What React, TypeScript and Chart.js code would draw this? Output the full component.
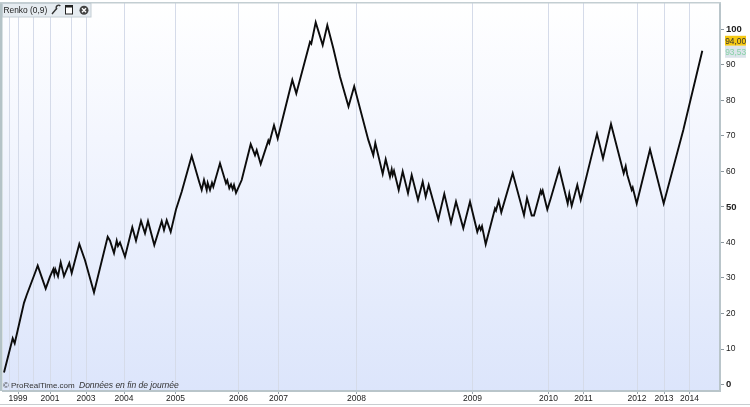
import React, { useEffect, useRef } from "react";
import { Chart, registerables } from "chart.js";

Chart.register(...registerables);

const brickIndex = [4,12.7,14.7,24,26.7,35,37.7,45.7,50,53.3,54.3,55.3,58,60.7,64,69.3,71.7,79.3,85,94,107.7,110,114,116.7,118,120,125,132.3,136,141,145,148,154.3,161.7,164,166.7,170.7,176,181.7,191.7,199.3,201.7,204,206.7,207.7,210,212,213.3,220,226,227.3,229.3,231,232.7,234,236,241.7,250.7,255,256.7,260.7,268.3,269.3,274,277.7,292.3,296.3,310,311.3,315.7,322.7,327.3,333.3,340,348.5,354.2,368.3,373.3,375.3,382.7,385.7,390,391.7,392.7,394,398.7,402.7,408,411.7,418,422.7,425.7,428.7,438.3,444.3,451,456,463.3,470,477.3,479.3,480.7,482,485.7,495,496,498.7,501.3,512.7,524,527,531.7,534,540.7,541.7,542.7,547.3,550.7,559.3,567.7,569.3,571.7,577.3,580.7,597,603,611,623.7,625.7,627.3,631.7,632.7,636.7,650,663.7,683.3,702.3];
const renkoValues = [3.4,13,11.6,23,25.2,31.4,33.5,27,30.4,32.5,31,32.5,30.5,34.4,30.5,34.2,31.4,39.6,35,25.9,41.6,40.5,37,40.5,39,40,36,44.3,40.5,46.1,42.6,46,39.3,46,43.5,46.3,43,49.3,54.3,64.4,57,54.8,57.6,54.8,56.8,54.8,56.8,55.7,62.3,56.7,57.5,55.3,56.4,55,56.2,54,57.6,67.7,64.6,66,62.1,68.7,68,73,69.3,85.8,82,96.5,96,102,95.6,101.2,94.7,86.7,78.3,84,68.9,64.6,68,59.3,63.4,58.5,60.6,59,60.2,54.8,60,53.9,59,52,57.1,52.9,56.2,46.5,53.7,45.6,51.5,44,51.5,43,44.6,43.6,44.6,39.5,49.6,49,51.8,48.5,59.5,47.7,52.5,47.6,47.6,54.6,53.8,54.6,49.3,52.4,60.7,51,53.7,50.3,56.2,52,70.6,63.7,73.4,59.5,61.5,59,54.8,55.5,51,66.2,51,71.7,94];

const gridPositions = [9,18,33,50,71,86,124,175.5,238.5,278.5,356.5,472.5,548.5,583.5,637,664,689.5];
const yearPositions = [18,50,86,124,175.5,238.5,278.5,356.5,472.5,548.5,583.5,637,664,689.5];
const yearLabels = ["1999","2001","2003","2004","2005","2006","2007","2008","2009","2010","2011","2012","2013","2014"];
const boldTicks = [0, 50, 100];
const lastClose = 94.0;
const lastCloseLabel = "94,00";
const movingLabel = "93,53";
const indicatorTitle = "Renko (0,9)";
const creditBrand = "ProRealTime.com";
const creditNote = "Données en fin de journée";

const frame = {
  id: "frame",
  beforeDraw(chart: any) {
    const { ctx, chartArea: a } = chart;
    const g = ctx.createLinearGradient(0, a.top, 0, a.bottom);
    g.addColorStop(0, "#ffffff");
    g.addColorStop(0.35, "#f3f6fe");
    g.addColorStop(1, "#dce5fb");
    ctx.save();
    ctx.fillStyle = g;
    ctx.fillRect(a.left, a.top, a.right - a.left, a.bottom - a.top);
    ctx.restore();
  },
  afterDraw(chart: any) {
    const { ctx, chartArea: a, scales } = chart;
    ctx.save();
    // outer frame
    ctx.fillStyle = "#b4c3c7";
    ctx.fillRect(0, 2, 2.5, a.bottom - 2);
    ctx.fillStyle = "#c3ced2";
    ctx.fillRect(0, 2, a.right + 1, 1.5);
    ctx.fillStyle = "#c8cdd0";
    ctx.fillRect(0, 404, 750, 1);

    // title box
    ctx.fillStyle = "#e6ecf1";
    ctx.fillRect(3, 4, 88, 13);
    ctx.strokeStyle = "#c4ced4";
    ctx.lineWidth = 1;
    ctx.strokeRect(2.5, 3.5, 88.5, 13.5);
    ctx.fillStyle = "#222";
    ctx.font = "8.4px 'Liberation Sans'";
    ctx.textAlign = "left";
    ctx.textBaseline = "middle";
    ctx.fillText(indicatorTitle, 3.5, 10.2);
    // wrench
    ctx.strokeStyle = "#333";
    ctx.lineWidth = 1.4;
    ctx.beginPath();
    ctx.moveTo(52, 14);
    ctx.lineTo(57, 8);
    ctx.arc(58.5, 7.5, 2.3, 2.6, 0.2 + 5.4);
    ctx.stroke();
    // window
    ctx.strokeStyle = "#222";
    ctx.lineWidth = 1;
    ctx.fillStyle = "#fff";
    ctx.fillRect(65.5, 5.5, 7, 8.5);
    ctx.strokeRect(65.5, 5.5, 7, 8.5);
    ctx.fillStyle = "#222";
    ctx.fillRect(65.5, 5.5, 7, 2);
    // close
    ctx.fillStyle = "#444";
    ctx.beginPath();
    ctx.arc(84, 10.3, 4.5, 0, Math.PI * 2);
    ctx.fill();
    ctx.strokeStyle = "#fff";
    ctx.lineWidth = 1.4;
    ctx.beginPath();
    ctx.moveTo(82, 8.3); ctx.lineTo(86, 12.3);
    ctx.moveTo(86, 8.3); ctx.lineTo(82, 12.3);
    ctx.stroke();

    // credit line
    ctx.textBaseline = "middle";
    ctx.fillStyle = "#333";
    ctx.font = "8px 'Liberation Sans'";
    ctx.fillText("©", 3, 386);
    ctx.fillText(creditBrand, 11, 386);
    ctx.font = "italic 8.5px 'Liberation Sans'";
    ctx.fillText(creditNote, 79, 386);

    // price badges
    const yScale = scales.y;
    const closeY = yScale.getPixelForValue(lastClose) - 10;
    ctx.font = "8.4px 'Liberation Sans'";
    ctx.textAlign = "left";
    ctx.fillStyle = "#f6c913";
    ctx.fillRect(725, closeY - 5, 21, 10);
    ctx.fillStyle = "#333";
    ctx.fillText(lastCloseLabel, 725.2, closeY + 0.5);
    ctx.fillStyle = "#dbe4ea";
    ctx.fillRect(725, closeY + 5, 21, 12);
    ctx.fillStyle = "#86d2a6";
    ctx.fillText(movingLabel, 725.2, closeY + 11.5);
    ctx.restore();
  },
};

export default function App() {
  const ref = useRef<HTMLCanvasElement>(null);
  useEffect(() => {
    document.body.style.margin = "0";
    const chart = new Chart(ref.current as HTMLCanvasElement, {
      type: "line",
      data: {
        datasets: [
          {
            data: brickIndex.map((x, i) => ({ x, y: renkoValues[i] })),
            borderColor: "#0c0c0c",
            borderWidth: 1.9,
            pointRadius: 0,
            pointHoverRadius: 0,
            pointBorderWidth: 0,
            pointHoverBorderWidth: 0,
            tension: 0,
            borderJoinStyle: "miter",
          },
        ],
      },
      options: {
        animation: false,
        responsive: false,
        devicePixelRatio: 1,
        layout: { autoPadding: false, padding: { left: 3, top: 3, right: 0, bottom: 0 } },
        plugins: { legend: { display: false }, tooltip: { enabled: false } },
        scales: {
          x: {
            type: "linear",
            min: 3,
            max: 720,
            afterBuildTicks(s: any) {
              s.ticks = gridPositions.map((value) => ({ value }));
            },
            afterFit(s: any) {
              s.height = 16;
              s.paddingLeft = 0;
              s.paddingRight = 0;
            },
            grid: {
              color: "#d5dbe9",
              tickLength: 3,
              tickColor: (c: any) =>
                yearPositions.includes(c.tick?.value) ? "#9aa5ad" : "rgba(0,0,0,0)",
            },
            border: { color: "#b9c5ca", width: 2 },
            ticks: {
              autoSkip: false,
              maxRotation: 0,
              padding: 0,
              color: "#1c1c1c",
              font: { family: "'Liberation Sans'", size: 8.5 },
              callback: (v: any) => {
                const i = yearPositions.indexOf(Number(v));
                return i >= 0 ? yearLabels[i] : "";
              },
            },
          },
          y: {
            position: "right",
            min: -1.83,
            max: 107.46,
            afterBuildTicks(s: any) {
              s.ticks = [0, 10, 20, 30, 40, 50, 60, 70, 80, 90, 100].map((value) => ({ value }));
            },
            afterFit(s: any) {
              s.width = 30;
              s.paddingTop = 0;
              s.paddingBottom = 0;
            },
            grid: { drawOnChartArea: false, tickLength: 4, tickColor: "#8c979e" },
            border: { color: "#b9c5ca", width: 2 },
            ticks: {
              padding: 2,
              color: "#222",
              font: (c: any) => {
                const bold = boldTicks.includes(c.tick?.value);
                return { family: "'Liberation Sans'", size: bold ? 9.5 : 8.5, weight: bold ? "bold" : "normal" };
              },
            },
          },
        },
      },
      plugins: [frame],
    } as any);
    return () => chart.destroy();
  }, []);
  return <canvas ref={ref} width={750} height={407} style={{ display: "block", width: 750, height: 407 }} />;
}
